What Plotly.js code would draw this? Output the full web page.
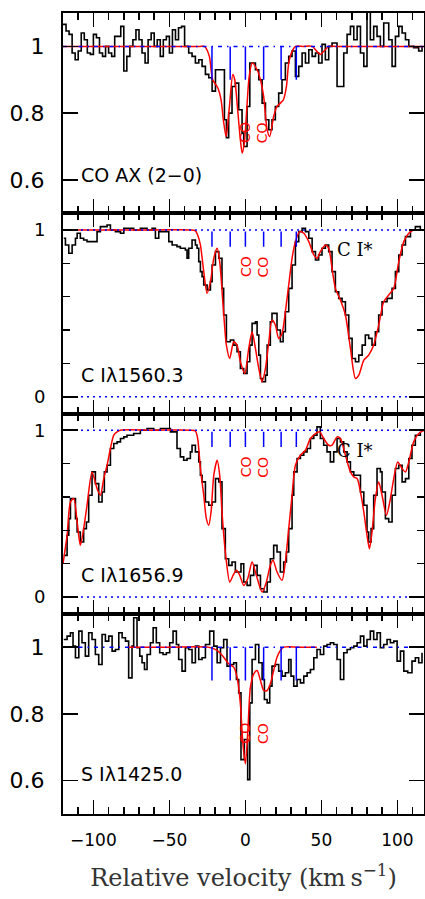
<!DOCTYPE html>
<html>
<head>
<meta charset="utf-8">
<script src="https://cdn.plot.ly/plotly-3.0.1.min.js"></script>
<style>html,body{margin:0;padding:0;background:#fff;overflow:hidden}</style>
</head>
<body>
<div id="chart" style="width:425px;height:899px"></div>
<script>
// ---- Component velocities (blue ticks) ----
var compVel = [-22, -10, 0, 12, 23.5, 33.5];
// CO component positions
var coVel = [0, 11.5];

// ---- Panel 1: CO AX (2-0) ----
var p1DataV = [-120,-118,-116,-114,-112,-110,-108,-106,-104,-102,-100,-98,-96,-94,-92,-90,-88,-86,-84,-82,-80,-78,-76,-74,-72,-70,-68,-66,-64,-62,-60,-58,-56,-54,-52,-50,-48,-46,-44,-42,-40,-37.3,-35.1,-32.9,-30.7,-28.5,-26.3,-24.1,-21.9,-19.7,-17.5,-13.8,-12.5,-11,-8.8,-6.6,-4.4,-2.2,-1.1,1.1,2.9,6.6,8.8,11,13.2,15.4,17.5,19.7,21.9,24.1,26.3,28.5,30.7,32.9,35.1,37.3,39.5,41.7,43.9,46.1,48.2,50.4,52.6,54.8,57,60.3,62.5,64.7,66.9,69.1,71.3,73.5,75.7,77.9,80,82.2,84.4,86.6,88.8,91,94.3,96.5,98.7,100.9,103.1,105.3,107.5,110.7,114,116.2];
var p1DataF = [1.066,1.046,1.036,0.98,0.96,0.986,1.04,1.02,0.98,0.976,1.036,1.026,0.98,0.97,1.0,0.98,0.97,1.03,1.03,1.06,0.926,0.97,1.0,1.02,1.05,1.02,0.98,0.95,1.02,1.04,1.0,1.02,0.97,1.02,1.03,0.98,1.05,1.02,1.056,1.06,1.0,0.98,0.97,0.95,0.96,0.94,0.916,0.906,0.866,0.93,0.93,0.78,0.726,0.80,0.88,0.89,0.81,0.74,0.70,0.82,0.95,0.93,0.90,0.83,0.78,0.75,0.78,0.82,0.86,0.90,0.95,0.97,0.986,0.91,0.94,0.98,0.95,0.99,0.97,0.98,0.95,1.006,0.96,1.0,1.01,0.88,0.88,0.98,1.036,1.06,1.02,1.06,0.98,0.94,1.12,1.02,1.06,1.03,1.0,1.07,1.02,0.94,1.03,1.06,1.04,1.02,1.0,0.996,0.986,1.0];
var p1ModelV = [-120,-60,-30,-27,-25.9,-23.7,-21.5,-18.2,-16,-14.5,-12.7,-10.5,-8.3,-7,-5.1,-3.3,-2.1,-0.5,1,2.5,4.5,7.7,9.9,12,14.3,16,18.6,20.8,23,25,27,28.5,30.7,33,38,44,47,49.3,51.5,54.8,60,118];
var p1ModelF = [1,1,1,1,0.995,0.97,0.90,0.876,0.84,0.78,0.73,0.82,0.916,0.90,0.81,0.72,0.68,0.72,0.82,0.91,0.95,0.93,0.90,0.85,0.75,0.73,0.79,0.82,0.83,0.84,0.88,0.95,0.985,1,1,1,0.985,0.976,0.985,1,1,1];

// ---- Panel 2: C I 1560.3 ----
var p2DataV = [-119.5,-118.4,-116.2,-114,-111.8,-110.7,-108.6,-106.4,-104.2,-99.8,-97.6,-95.4,-91,-88.8,-85.5,-82.2,-80,-75.7,-73.5,-69.1,-64.7,-61.4,-59.2,-57,-53.7,-50.4,-48.2,-45,-42.8,-39.5,-38.4,-37.3,-35.1,-32.9,-31.8,-30.7,-29.6,-28.5,-27.4,-25.2,-23,-21.9,-19.7,-17.5,-15.4,-14.3,-12.5,-9.9,-7.7,-5.5,-3.3,-1.1,1.1,2.9,4.4,6.6,7.7,8.8,9.9,11,13.2,14.3,16.4,17.5,19.7,20.8,23,24.8,26.3,28.5,30.7,32.9,35.1,37.3,39.5,41.7,43.9,46.1,48.2,50.4,52.6,54.8,57,59.2,61.4,63.6,65.8,68,70.2,72.4,74.6,76.8,78.9,81.1,83.3,85.5,87.7,89.9,93.2,96.5,98.7,100.9,103.1,105.3,108.6,111.8,115.1];
var p2DataF = [0.95,0.91,0.86,0.91,0.95,0.98,0.95,0.94,0.93,0.93,0.99,1.02,1.03,1.0,0.99,0.98,1.01,1.01,1.0,1.01,1.0,1.01,0.95,0.99,0.99,0.93,0.91,0.90,0.89,0.88,0.83,0.89,0.94,0.91,0.89,0.81,0.75,0.72,0.67,0.64,0.69,0.79,0.87,0.83,0.65,0.49,0.33,0.34,0.31,0.27,0.17,0.14,0.21,0.31,0.44,0.45,0.37,0.25,0.11,0.09,0.13,0.31,0.45,0.50,0.50,0.40,0.33,0.39,0.51,0.65,0.79,0.93,0.99,1.01,0.99,0.95,0.87,0.82,0.85,0.89,0.91,0.87,0.75,0.63,0.59,0.57,0.49,0.35,0.23,0.21,0.25,0.31,0.37,0.35,0.31,0.39,0.49,0.57,0.59,0.65,0.75,0.85,0.91,0.96,1.0,1.02,1.0];
var p2ModelV = [-120,-60,-36,-32.9,-31.4,-29.6,-27.4,-25.2,-23,-20.8,-18.6,-16.9,-14.7,-12.5,-10.3,-7.7,-5.5,-3.3,-0.4,2.2,4.4,6.6,8.8,11,13.2,15.4,17.5,19.7,21.9,24.1,26.3,28.5,30.7,32.9,35.7,38.4,41.7,45,47.1,49.3,52.6,54.8,57,59.2,62.5,65.8,69.1,72.4,74.6,77.9,81.1,84.4,87.7,91,94.3,97.6,100.9,104.2,107.5,110.7,118];
var p2ModelF = [1,1,1,0.995,0.97,0.91,0.75,0.62,0.69,0.83,0.89,0.81,0.55,0.31,0.23,0.33,0.31,0.21,0.14,0.29,0.39,0.29,0.17,0.09,0.17,0.33,0.46,0.43,0.35,0.38,0.51,0.67,0.83,0.93,0.99,0.98,0.93,0.85,0.83,0.87,0.91,0.89,0.77,0.65,0.58,0.49,0.29,0.11,0.13,0.22,0.25,0.31,0.43,0.57,0.61,0.65,0.81,0.93,0.98,1.0,1.0];

// ---- Panel 3: C I 1656.9 ----
var p3DataV = [-119.5,-117.3,-116.2,-115.1,-112.9,-111.8,-110.7,-108.6,-106.4,-104.6,-103.1,-100.9,-98.7,-96.5,-94.3,-92.8,-91,-88.8,-86.6,-84.4,-82.2,-80,-77.9,-73.5,-69.1,-64.7,-60.3,-55.9,-51.5,-49.3,-47.1,-45,-42.8,-40.6,-38.4,-36.2,-35.1,-32.9,-30.7,-29.6,-28.5,-26.3,-24.1,-21.9,-19.7,-17.5,-15.4,-13.2,-11,-8.8,-6.6,-4.4,-2.9,-1.1,1.1,3.3,5.5,7.7,9.9,12.1,14.3,16.4,18.6,20.8,23,25.2,27,28.5,30.7,31.8,34,36.2,38.4,40.6,42.8,45,47.1,49.3,51.5,53.7,55.9,58.1,60.3,62.5,64.7,66.9,69.1,71.3,73.5,75.7,77.9,80,81.1,82.7,84.4,86.6,88.8,89.9,92.1,94.3,96.5,98.7,100.9,103.1,105.3,107.5,109.6,111.8,115.1];
var p3DataF = [0.25,0.37,0.47,0.59,0.59,0.47,0.39,0.33,0.41,0.45,0.61,0.75,0.68,0.57,0.63,0.75,0.79,0.89,0.92,0.93,0.95,0.96,0.97,0.98,1.0,1.01,1.0,1.01,1.01,0.99,0.99,0.89,0.84,0.82,0.83,0.87,0.91,0.87,0.81,0.73,0.69,0.57,0.55,0.57,0.71,0.69,0.41,0.23,0.19,0.21,0.15,0.15,0.20,0.09,0.07,0.13,0.19,0.13,0.05,0.03,0.09,0.23,0.31,0.27,0.15,0.21,0.27,0.41,0.61,0.75,0.83,0.85,0.87,0.89,0.95,0.97,1.02,0.95,0.91,0.87,0.81,0.87,0.95,0.93,0.87,0.81,0.75,0.73,0.73,0.63,0.55,0.39,0.33,0.41,0.61,0.77,0.75,0.63,0.47,0.45,0.61,0.77,0.79,0.69,0.71,0.83,0.91,0.97,0.99];
var p3ModelV = [-120,-117.3,-115.1,-112.9,-110.7,-108.6,-106.4,-104.2,-100.9,-97.6,-95.4,-93.2,-91,-88.8,-86.6,-84.4,-82.2,-60,-36,-32.9,-31.4,-29.6,-27.4,-25.7,-24.1,-22.6,-20.8,-18.6,-16.9,-15.4,-13.2,-10.3,-8.1,-5.9,-3.7,-1.1,1.5,4.4,7.2,11,13.8,16.4,18.2,20.8,24.1,26.3,28.5,30.7,32.9,36.2,39.5,42.8,46.1,48.9,51.5,54.8,57,60.3,62.5,65.8,69.1,71.3,73.5,75.7,77.9,80,81.6,83.3,85.5,87.7,89.9,92.8,95,97.6,100.2,103.1,105.3,107.5,110.7,114,118];
var p3ModelF = [0.20,0.37,0.57,0.59,0.45,0.31,0.41,0.55,0.75,0.65,0.61,0.71,0.79,0.89,0.97,0.99,1,1,1,0.995,0.95,0.77,0.61,0.47,0.43,0.51,0.73,0.82,0.73,0.51,0.27,0.09,0.13,0.16,0.13,0.07,0.11,0.21,0.13,0.03,0.09,0.19,0.22,0.15,0.10,0.21,0.41,0.61,0.79,0.85,0.88,0.95,0.98,0.99,0.95,0.91,0.91,0.96,0.95,0.85,0.75,0.72,0.71,0.63,0.51,0.37,0.29,0.39,0.59,0.69,0.61,0.49,0.57,0.71,0.81,0.77,0.75,0.81,0.93,0.98,1.0];

// ---- Panel 4: S I 1425.0 ----
var p4DataV = [-119.5,-117.3,-115.1,-113.4,-111.8,-109.6,-107.5,-105.3,-103.1,-100.9,-98.7,-96.5,-94.3,-92.1,-89.9,-87.7,-85.5,-83.3,-81.1,-78.9,-76.8,-74.6,-73.5,-71.3,-69.5,-68,-66.4,-64.7,-62.5,-60.7,-58.6,-56.4,-54.2,-52,-49.8,-47.6,-45.4,-43.9,-41.7,-39.5,-37.3,-35.1,-32.9,-30.7,-28.5,-26.3,-23.5,-20.8,-18.6,-16.4,-14.3,-12.1,-9.9,-7.7,-5.9,-4.4,-2.9,-0.7,1.5,2.9,4.4,6.6,8.8,11,12.5,14.3,16,17.5,19.7,21.9,24.1,26.3,28.5,30,31.8,34,36.2,38.4,40.6,42.8,45,47.1,49.3,51.5,53.7,55.9,58.1,60.3,62.5,64.7,66.9,69.1,71.3,73.5,75.7,77.9,80,82.2,84.4,86.6,88.8,91,93.2,95.4,97.6,99.8,102,104.2,106.8,109.6,111.8,114,116.2];
var p4DataF = [1.023,1.033,1.043,1.003,0.968,1.048,1.013,0.973,1.043,1.023,0.978,0.948,1.038,1.018,1.033,0.988,0.993,1.043,1.028,1.018,0.908,1.003,1.088,0.998,0.973,0.953,0.933,0.978,1.013,1.058,1.013,0.983,0.978,0.983,1.013,1.048,1.008,0.963,0.928,0.998,0.993,0.953,1.003,0.963,0.968,1.008,1.048,1.003,0.953,0.998,1.023,0.943,0.948,0.953,0.903,0.863,0.663,0.723,0.603,0.833,0.963,1.008,0.953,0.903,0.843,0.833,0.883,0.943,0.948,0.928,0.913,0.923,0.963,0.913,0.883,0.903,0.893,0.913,0.923,0.933,0.968,0.993,0.978,1.003,1.008,1.013,1.008,0.963,0.903,0.983,0.993,0.998,1.003,1.013,1.033,1.003,1.023,1.048,1.023,1.043,0.998,1.008,1.023,1.013,1.018,0.958,0.988,0.928,0.923,0.958,0.968,0.953,0.983];
var p4ModelV = [-77,-50,-24.5,-18.6,-14.3,-11,-7.7,-5.5,-3.3,-1.8,0,1.5,3.3,5.5,7.7,9.9,12.1,14.3,16.4,18.6,20.8,23,25.2,35,47];
var p4ModelF = [1,1,1,0.99,0.97,0.95,0.94,0.91,0.83,0.72,0.65,0.74,0.88,0.92,0.93,0.90,0.87,0.87,0.89,0.93,0.97,0.99,1,1,1];

// ---- Labels ----
var panelLabels = ["CO AX (2\u22120)", "C I\u03bb1560.3", "C I\u03bb1656.9", "S I\u03bb1425.0"];
var panelLabelY = [0.615, 0.13, 0.13, 0.62];
var coLabelY = [0.742, 0.78, 0.78, 0.742];
var ciStarLabel = "C I*";

var XR = [-120, 117.5];
var panels = [
  {dv:p1DataV, df:p1DataF, mv:p1ModelV, mf:p1ModelF, dots:false},
  {dv:p2DataV, df:p2DataF, mv:p2ModelV, mf:p2ModelF, dots:true},
  {dv:p3DataV, df:p3DataF, mv:p3ModelV, mf:p3ModelF, dots:true},
  {dv:p4DataV, df:p4DataF, mv:p4ModelV, mf:p4ModelF, dots:false}
];

var layout = {
  width:425, height:899,
  margin:{l:63, r:1, t:13, b:85},
  paper_bgcolor:'#fff', plot_bgcolor:'#fff',
  showlegend:false,
  annotations:[],
  font:{family:'DejaVu Sans', color:'#000'}
};

var traces = [];
panels.forEach(function(p, i){
  var xa = i === 0 ? 'x' : 'x' + (i+1);
  var ya = i === 0 ? 'y' : 'y' + (i+1);
  traces.push({x:p.dv, y:p.df, xaxis:xa, yaxis:ya, mode:'lines', line:{shape:'hv', color:'#000', width:1.6}, hoverinfo:'skip'});
  traces.push({x:p.mv, y:p.mf, xaxis:xa, yaxis:ya, mode:'lines', line:{shape:'spline', smoothing:0.7, color:'#ff0000', width:1.5}, hoverinfo:'skip'});
  var dash = p.dots ? '2px,4px' : '4px,5px,1.5px,5px';
  traces.push({x:XR, y:[1,1], xaxis:xa, yaxis:ya, mode:'lines', line:{color:'#0000ff', width:1.5, dash:dash}, hoverinfo:'skip'});
  if (p.dots) traces.push({x:XR, y:[0,0], xaxis:xa, yaxis:ya, mode:'lines', line:{color:'#0000ff', width:1.5, dash:dash}, hoverinfo:'skip'});
  var tx = [], ty = [];
  compVel.forEach(function(v){ tx.push(v, v, null); ty.push(p.dots ? 0.99 : 1, 0.9, null); });
  traces.push({x:tx, y:ty, xaxis:xa, yaxis:ya, mode:'lines', line:{color:'#0000ff', width:1.5}, hoverinfo:'skip', connectgaps:false});
  coVel.forEach(function(v){
    layout.annotations.push({xref:xa, yref:ya, x:v, y:coLabelY[i], text:'CO', textangle:-90, showarrow:false,
      xanchor:'center', yanchor:'middle', font:{family:'DejaVu Sans', size:14, color:'#ff0000'}});
  });
});

var doms = [[0.75,1],[0.5,0.75],[0.25,0.5],[0,0.25]];
var yr = [[0.5,1.1],[-0.1,1.1],[-0.1,1.1],[0.5,1.1]];
for (var i=0;i<4;i++){
  var xk = i===0 ? 'xaxis' : 'xaxis'+(i+1);
  var yk = i===0 ? 'yaxis' : 'yaxis'+(i+1);
  var yname = i===0 ? 'y' : 'y'+(i+1);
  var xname = i===0 ? 'x' : 'x'+(i+1);
  layout[xk] = {
    domain:[0,1], anchor:yname, range:XR, showgrid:false, zeroline:false,
    showline:true, linecolor:'#000', linewidth:2, mirror:'allticks',
    ticks:'inside', ticklen:14, tickwidth:1.5, tickcolor:'#000', dtick:50, tick0:0,
    minor:{dtick:10, ticklen:7, tickwidth:1.5, tickcolor:'#000', ticks:'inside'},
    showticklabels: i===3,
    tickfont:{family:'DejaVu Sans', size:17, color:'#000'},
    ticklabelstandoff: 10
  };
  var big = (i===0 || i===3);
  layout[yk] = {
    domain:doms[i], anchor:xname, range:yr[i], showgrid:false, zeroline:false,
    showline:true, linecolor:'#000', linewidth:2, mirror:'allticks',
    ticks:'inside', ticklen:15, tickwidth:1.5, tickcolor:'#000',
    dtick: big ? 0.2 : 1, tick0:0,
    tickfont:{family:'DejaVu Sans', size: big ? 22 : 18, color:'#000'},
    ticklabelstandoff: 12
  };
  if (!big) layout[yk].minor = {dtick:0.2, ticklen:7, tickwidth:1.5, tickcolor:'#000', ticks:'inside'};
  layout.annotations.push({xref:xname, yref:yname, x:-109.5, y:panelLabelY[i], text:panelLabels[i], showarrow:false, xanchor:'left', yanchor:'middle', font:{family:'DejaVu Sans', size:19, color:'#000'}});
  if (i===1 || i===2) layout.annotations.push({xref:xname, yref:yname, x:59, y:0.88, text:ciStarLabel, showarrow:false, xanchor:'left', yanchor:'middle', font:{family:'DejaVu Serif', size:18, color:'#000'}});
}
layout.xaxis4.title = {text:'Relative velocity (km\u2009s<sup>\u22121</sup>)', font:{family:'DejaVu Serif', size:24, color:'#333'}, standoff:20};

Plotly.newPlot('chart', traces, layout, {staticPlot:true, displayModeBar:false});
</script>
</body>
</html>
